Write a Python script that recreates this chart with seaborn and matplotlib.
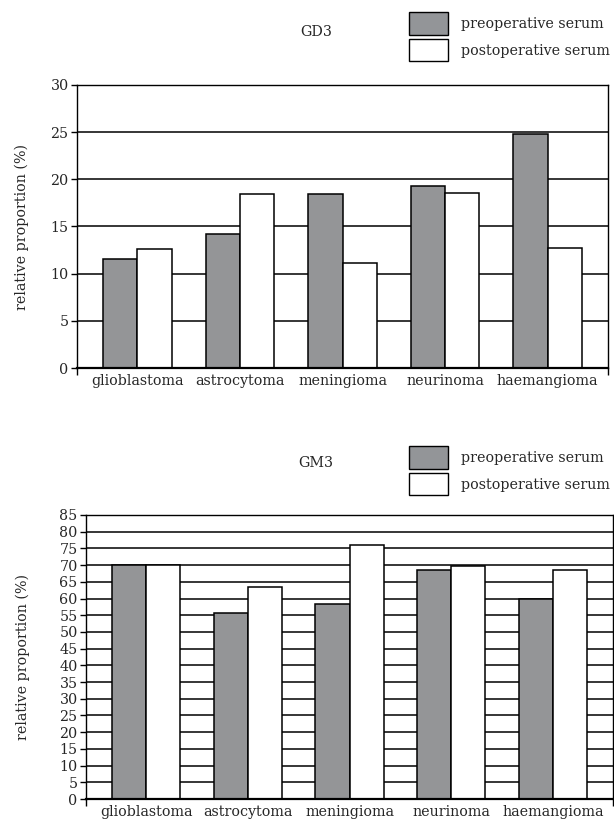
import pandas as pd
import seaborn as sns
import matplotlib.pyplot as plt
from matplotlib.patches import Patch

tumours = ['glioblastoma', 'astrocytoma', 'meningioma', 'neurinoma', 'haemangioma']
groups = ['preoperative serum', 'postoperative serum']

gd3_pre = [11.6, 14.2, 18.4, 19.3, 24.8]
gd3_post = [12.6, 18.4, 11.1, 18.6, 12.7]
gm3_pre = [70.1, 55.8, 58.3, 68.6, 59.9]
gm3_post = [70.1, 63.5, 75.9, 69.6, 68.6]

sns.set_style('white')
plt.rcParams['font.family'] = ['DejaVu Serif']
plt.rcParams['font.size'] = 10.3

palette = {'preoperative serum': '#939598', 'postoperative serum': 'white'}


def make_df(pre, post):
    return pd.DataFrame({
        'tumour': tumours * 2,
        'serum': [groups[0]] * 5 + [groups[1]] * 5,
        'value': pre + post,
    })


fig = plt.figure(figsize=(6.14, 8.22), dpi=100)
ax1 = fig.add_axes([77 / 614, 1 - 368 / 822, 531 / 614, 283 / 822])
ax2 = fig.add_axes([86 / 614, 1 - 799 / 822, 527 / 614, 284 / 822])

panels = [
    (ax1, make_df(gd3_pre, gd3_post), 30, range(0, 31, 5), -0.0895, 'GD3', 32, 12),
    (ax2, make_df(gm3_pre, gm3_post), 85, range(0, 86, 5), -0.107, 'GM3', 463, 446),
]

for ax, df, ymax, yt, labx, name, ty, ly in panels:
    sns.barplot(data=df, x='tumour', y='value', hue='serum', palette=palette,
                width=0.67, edgecolor='black', linewidth=1.1, legend=False, ax=ax)
    ax.set_axisbelow(True)
    ax.yaxis.grid(True, color='black', linewidth=1.1)
    ax.set_ylim(0, ymax)
    ax.set_yticks(list(yt))
    ax.set_xlim(-0.59, 4.59)
    ax.set_xlabel('')
    ax.set_ylabel('relative proportion (%)')
    ax.yaxis.set_label_coords(labx, 0.5)
    ax.tick_params(axis='y', direction='out', length=4, width=1, color='black',
                   left=True, pad=2)
    ax.tick_params(axis='x', length=0, pad=4)
    ax.set_xticks([-0.59, 4.59], minor=True)
    ax.tick_params(axis='x', which='minor', direction='out', length=5,
                   width=1, color='black', bottom=True)
    for s in ['left', 'right', 'top']:
        ax.spines[s].set_visible(True)
        ax.spines[s].set_color('black')
        ax.spines[s].set_linewidth(1.0)
    ax.spines['bottom'].set_color('black')
    ax.spines['bottom'].set_linewidth(1.6)

    fig.text(316 / 614, 1 - ty / 822, name, ha='center', va='center', fontsize=10.3)
    handles = [Patch(facecolor=palette[g], edgecolor='black', linewidth=1.0) for g in groups]
    fig.legend(handles, groups, loc='upper left',
               bbox_to_anchor=(409 / 614, 1 - ly / 822), frameon=False,
               borderpad=0, borderaxespad=0, handlelength=2.7, handleheight=2.05,
               labelspacing=0.3, handletextpad=0.95, fontsize=10.3)

fig.savefig('out.png', dpi=100)
